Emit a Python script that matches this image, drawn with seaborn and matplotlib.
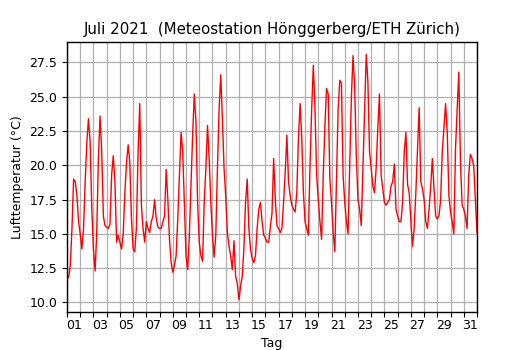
import numpy as np
import pandas as pd
import matplotlib
matplotlib.use("Agg")
import matplotlib.pyplot as plt
import seaborn as sns

# 3-hourly readings (00,03,06,09,12,15,18,21 h) per day, July 2021
slot_hours = [0, 3, 6, 9, 12, 15, 18, 21]
week1 = [
    [12.0, 11.8, 12.7, 15.4, 19.0, 18.8, 17.8, 15.9],
    [15.0, 13.9, 15.4, 18.8, 21.7, 23.4, 21.7, 16.8],
    [13.9, 12.3, 15.1, 20.5, 23.6, 21.0, 16.3, 15.6],
    [15.5, 15.4, 15.7, 19.3, 20.7, 18.8, 14.4, 14.9],
    [14.4, 13.9, 15.0, 18.0, 20.2, 21.5, 20.2, 16.1],
    [13.9, 13.7, 15.5, 21.0, 24.5, 17.1, 15.4, 14.4],
    [15.9, 15.4, 15.1, 15.9, 16.3, 17.5, 16.1, 15.5],
]
week2 = [
    [15.4, 15.4, 15.9, 16.3, 19.7, 17.5, 14.6, 12.9],
    [12.2, 12.7, 13.4, 16.1, 19.3, 22.4, 21.0, 17.3],
    [13.4, 12.4, 14.9, 18.5, 22.2, 25.2, 23.2, 17.3],
    [14.4, 13.4, 13.0, 17.3, 19.8, 22.9, 20.5, 17.3],
    [14.9, 13.3, 14.9, 19.8, 24.1, 26.6, 23.4, 19.8],
    [17.8, 15.1, 14.1, 13.4, 12.4, 14.5, 11.9, 11.4],
    [10.2, 11.2, 11.9, 13.9, 17.3, 19.0, 15.4, 13.9],
]
week3 = [
    [13.2, 12.9, 13.4, 15.4, 16.8, 17.3, 15.9, 14.9],
    [14.7, 14.4, 14.4, 15.5, 16.5, 20.5, 17.5, 15.6],
    [15.4, 15.1, 15.4, 17.3, 19.5, 22.2, 18.8, 17.8],
    [17.1, 16.8, 16.6, 18.0, 22.0, 24.5, 22.0, 18.0],
    [15.9, 15.4, 14.9, 20.0, 24.1, 27.3, 24.1, 19.3],
    [17.5, 15.9, 14.6, 19.3, 22.9, 25.6, 25.2, 19.0],
    [17.3, 15.1, 13.7, 18.8, 24.1, 26.2, 26.0, 19.3],
]
week4 = [
    [17.3, 15.9, 15.0, 19.8, 24.9, 28.0, 25.8, 20.7],
    [17.5, 16.8, 15.6, 19.8, 24.1, 28.1, 26.1, 21.0],
    [19.8, 18.5, 18.0, 19.8, 22.7, 25.2, 19.3, 18.3],
    [17.3, 17.1, 17.3, 17.5, 18.5, 18.8, 20.1, 16.8],
    [16.3, 15.9, 15.9, 17.3, 21.0, 22.4, 18.6, 18.0],
    [15.9, 14.1, 15.4, 18.0, 21.0, 24.2, 18.8, 18.3],
    [17.5, 15.9, 15.4, 16.8, 18.5, 20.5, 18.3, 16.3],
]
week5 = [
    [16.1, 16.3, 17.5, 21.0, 22.7, 24.5, 22.4, 17.8],
    [16.6, 15.9, 15.0, 21.2, 24.1, 26.8, 20.2, 17.1],
    [16.8, 16.3, 15.4, 19.3, 20.8, 20.5, 20.0, 17.5],
]
final_value = 15.1  # 1 August 00:00

day_labels = ["01", "03", "05", "07", "09", "11", "13", "15",
              "17", "19", "21", "23", "25", "27", "29", "31"]

days = week1 + week2 + week3 + week4 + week5
t, temp = [], []
for d, vals in enumerate(days):
    for h, v in zip(slot_hours, vals):
        t.append(d + h / 24.0)
        temp.append(v)
t.append(len(days))
temp.append(final_value)
df = pd.DataFrame({"Tag": t, "T": temp})

fig = plt.figure(figsize=(5.3, 3.5), dpi=100)
ax = fig.add_axes([0.1264, 0.1086, 0.7736, 0.7714])
sns.lineplot(data=df, x="Tag", y="T", ax=ax, color="red", lw=1.0)

ax.set_xlim(0, 31)
ax.margins(y=0.05)
ax.set_xticks(np.arange(0, 32))
ax.set_xticklabels([])
ax.set_xticks(np.arange(0.5, 31, 2), minor=True)
ax.set_xticklabels(day_labels, minor=True, fontsize=9)
ax.tick_params(axis="x", which="minor", length=0, pad=5)
ax.tick_params(axis="x", which="major", length=3.5)
ax.set_yticks(np.arange(10, 28, 2.5))
ax.set_yticklabels([f"{v:.1f}" for v in np.arange(10, 28, 2.5)], fontsize=9)
ax.grid(True, which="major", color="#b0b0b0", lw=0.9)
ax.set_axisbelow(True)
for s in ax.spines.values():
    s.set_color("black")
    s.set_linewidth(1.0)

ax.set_xlabel("Tag", fontsize=9)
ax.set_ylabel("Lufttemperatur (°C)", fontsize=9)
ax.set_title("Juli 2021  (Meteostation Hönggerberg/ETH Zürich)", fontsize=10.85)

fig.savefig("out.png", dpi=100)
